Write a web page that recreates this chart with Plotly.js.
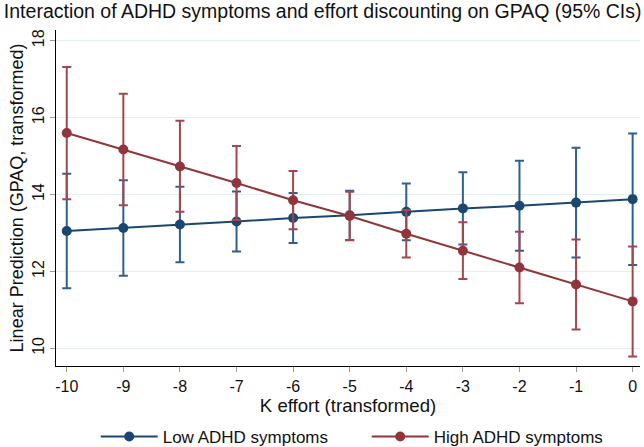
<!DOCTYPE html>
<html>
<head>
<meta charset="utf-8">
<script src="https://cdn.plot.ly/plotly-3.0.1.min.js"></script>
<style>html,body{margin:0;padding:0;background:#fff;}#chart{width:644px;height:447px;}</style>
</head>
<body>
<div id="chart"></div>
<script>
// K effort (transformed)
var kEffort = [-10, -9, -8, -7, -6, -5, -4, -3, -2, -1, 0];
var xTickLabels = ["-10", "-9", "-8", "-7", "-6", "-5", "-4", "-3", "-2", "-1", "0"];
var yTickVals = [10, 12, 14, 16, 18];

// Low ADHD symptoms: linear prediction and 95% CI
var lowPred  = [13.05, 13.13, 13.22, 13.30, 13.39, 13.46, 13.55, 13.64, 13.71, 13.79, 13.88];
var lowLower = [11.56, 11.89, 12.24, 12.52, 12.74, 12.82, 12.81, 12.70, 12.54, 12.36, 12.17];
var lowUpper = [14.54, 14.37, 14.20, 14.08, 14.04, 14.10, 14.29, 14.58, 14.88, 15.22, 15.59];

// High ADHD symptoms: linear prediction and 95% CI
var highPred  = [15.60, 15.17, 14.73, 14.30, 13.85, 13.44, 12.98, 12.54, 12.10, 11.66, 11.22];
var highLower = [13.88, 13.72, 13.55, 13.34, 13.10, 12.81, 12.36, 11.80, 11.17, 10.49, 9.79];
var highUpper = [17.32, 16.62, 15.92, 15.26, 14.61, 14.07, 13.60, 13.28, 13.03, 12.83, 12.65];

var seriesNames = ["Low ADHD symptoms", "High ADHD symptoms"];

var blue = "#1a476f", red = "#90353b";
var blueCI = "#2f5f8f", redCI = "#a4464d";

function diff(a, b) { return a.map(function (v, i) { return v - b[i]; }); }

var traces = [
  {
    x: kEffort, y: lowPred, name: seriesNames[0], type: "scatter", mode: "lines+markers",
    line: {color: blue, width: 2}, marker: {color: blue, size: 10},
    error_y: {type: "data", symmetric: false, array: diff(lowUpper, lowPred), arrayminus: diff(lowPred, lowLower),
              color: blueCI, thickness: 2, width: 4.5}
  },
  {
    x: kEffort, y: highPred, name: seriesNames[1], type: "scatter", mode: "lines+markers",
    line: {color: red, width: 2}, marker: {color: red, size: 10},
    error_y: {type: "data", symmetric: false, array: diff(highUpper, highPred), arrayminus: diff(highPred, highLower),
              color: redCI, thickness: 2, width: 4.5}
  }
];

var font = "'Liberation Sans', Arial, sans-serif";

var layout = {
  width: 644, height: 447,
  paper_bgcolor: "#fff", plot_bgcolor: "#fff",
  margin: {l: 56, r: 4, t: 30, b: 81},
  font: {family: font, color: "#111", size: 16},
  title: {text: "Interaction of ADHD symptoms and effort discounting on GPAQ (95% CIs)",
          font: {family: font, size: 19.5, color: "#111"},
          x: 0.006, xanchor: "left", xref: "container", y: 0.975, yanchor: "middle", yref: "container"},
  xaxis: {
    range: [-10.19, 0.13], tickvals: kEffort, ticktext: xTickLabels,
    showgrid: false, zeroline: false, showline: true, linecolor: "#000", linewidth: 1,
    ticks: "outside", ticklen: 5, tickcolor: "#999", tickfont: {size: 16, color: "#111"},
    ticklabelstandoff: 1,
    title: {text: "K effort (transformed)", font: {size: 18.6, color: "#111"}, standoff: 4}
  },
  yaxis: {
    range: [9.54, 18.28], tickvals: yTickVals, tickangle: -90,
    showgrid: true, gridcolor: "#e4eef0", gridwidth: 1, zeroline: false,
    showline: true, linecolor: "#000", linewidth: 1,
    ticks: "outside", ticklen: 5, tickcolor: "#999", tickfont: {size: 16, color: "#111"},
    title: {text: "Linear Prediction (GPAQ, transformed)", font: {size: 18, color: "#111"}, standoff: 1}
  },
  showlegend: true,
  legend: {orientation: "h", x: 0.068, xanchor: "left", y: 0.0224, yanchor: "middle", yref: "container",
           font: {size: 17, color: "#111"}, bgcolor: "rgba(0,0,0,0)", itemwidth: 57,
           entrywidth: 199, entrywidthmode: "pixels"}
};

Plotly.newPlot("chart", traces, layout, {displayModeBar: false, staticPlot: true});
</script>
</body>
</html>
